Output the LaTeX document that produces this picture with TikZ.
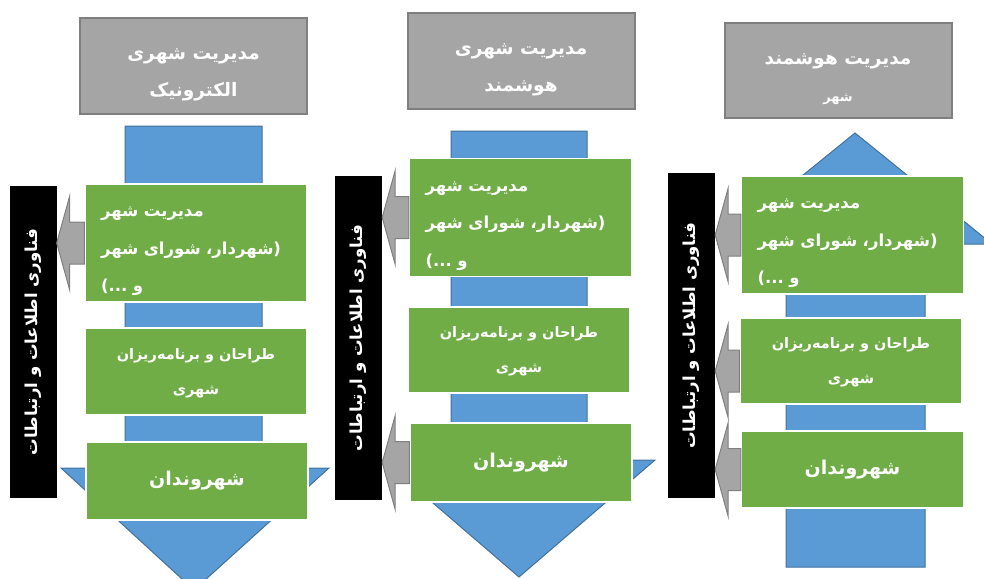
\documentclass[tikz,border=0pt]{standalone}
\usepackage{fontspec}
\usepackage{tikz}
\usetikzlibrary{calc,positioning}
\TeXXeTstate=1
\newfontfamily\fafont[Script=Arabic]{DejaVu Sans}
% une ligne abaissee de #1 et sans hauteur
\newcommand{\rbase}[2]{\raisebox{-#1}[0pt][0pt]{#2}}
\newcommand{\rh}[1]{\rbase{12pt}{#1}}% entete
\newcommand{\rv}[1]{\rbase{11pt}{#1}}% boite a trois lignes
\newcommand{\rp}[1]{\rbase{5pt}{#1}}% boite a deux lignes
\definecolor{gris}{HTML}{A5A5A5}
\definecolor{grisf}{HTML}{7F7F7F}
\definecolor{vert}{HTML}{70AD47}
\definecolor{bleu}{HTML}{5B9BD5}
\definecolor{bleuf}{HTML}{41719C}
\tikzset{
	fa_node/.style = {align=center, inner sep=0pt, text=white,
		font=\fafont\bfseries\fontsize{14.5}{35}\selectfont},
	fa_h/.style = {fa_node, rectangle, fill=gris, draw=grisf, line width=2pt,
		minimum width=227pt, minimum height=95pt,
		font=\fafont\bfseries\fontsize{18.5}{37}\selectfont},% entete gris
	fa_v/.style = {fa_node, rectangle, fill=vert, draw=white, line width=1.5pt,
		minimum width=222pt},% boite verte
	fa_v1/.style = {fa_v, minimum height=118pt, align=left, text width=190pt,
		font=\fafont\bfseries\fontsize{16.5}{37.5}\selectfont},% boite verte, trois lignes
	fa_c/.style = {fa_v, font=\fafont\bfseries\fontsize{19}{24}\selectfont},% citoyens
	fa_k/.style = {fa_node, rectangle, fill=black, rotate=90,
		minimum height=47pt, font=\fafont\bfseries\fontsize{16.5}{20}\selectfont},% barre noire
	arw_b/.style = {fill=bleu, draw=bleuf, line width=1pt},% fleche bleue
	arw_g/.style = {fill=gris, draw=grisf, line width=1pt}% fleche grise
}
% fleche grise de la boite #2 vers la barre #3 (barre tournee: south = bord droit)
\newcommand{\itflux}[3][0]{%
	\coordinate (pt) at ($(#3.south |- #2.west)+(0,#1)$);
	\draw[arw_g] (pt) -- ++(13,-47) -- ++(0,26) -- ($(#2.west |- pt)+(0,-21)$)
		-- ($(#2.west |- pt)+(0,21)$) -- ($(pt)+(13,21)$) -- ($(pt)+(13,47)$) -- cycle;
}

\begin{document}
\begin{tikzpicture}[x=1pt, y=-1pt]
\useasboundingbox (0,0) rectangle (984,578);

% fleches bleues
\draw[arw_b] (125,126) -- (262,126) -- (262,468) -- (329,468) -- (194,590)
	-- (61,468) -- (125,468) -- cycle;
\draw[arw_b] (451,131) -- (587,131) -- (587,460) -- (655,460) -- (519,577)
	-- (383,460) -- (451,460) -- cycle;
\draw[arw_b] (786,567) -- (925,567) -- (925,244) -- (992,244) -- (855,133)
	-- (718,244) -- (786,244) -- cycle;

% colonne 1
\node [fa_h] (h1) at (193.5,66) {\rh{\beginR مدیریت شهری\endR}\\ \rh{\beginR الکترونیک\endR}};
\node [fa_v1] (m1) at (196,243) {\rv{\beginR مدیریت شهر\endR}\\ \rv{\beginR (شهردار، شورای شهر\endR}\\ \rv{\beginR و ...)\endR}};
\node [fa_v, minimum height=87pt] (p1) at (196,371.5) {\rp{\beginR طراحان و برنامه‌ریزان\endR}\\ \rp{\beginR شهری\endR}};
\node [fa_c, minimum height=78pt] (c1) at (197,481) {\beginR شهروندان\endR};
\node [fa_k, minimum width=312pt] (k1) at (33,342) {\beginR فناوری اطلاعات و ارتباطات\endR};

% colonne 2
\node [fa_h] (h2) at (521,61) {\rh{\beginR مدیریت شهری\endR}\\ \rh{\beginR هوشمند\endR}};
\node [fa_v1] (m2) at (520.5,217.5) {\rv{\beginR مدیریت شهر\endR}\\ \rv{\beginR (شهردار، شورای شهر\endR}\\ \rv{\beginR و ...)\endR}};
\node [fa_v, minimum height=86pt] (p2) at (519,350) {\rp{\beginR طراحان و برنامه‌ریزان\endR}\\ \rp{\beginR شهری\endR}};
\node [fa_c, minimum height=79pt] (c2) at (521,462.5) {\beginR شهروندان\endR};
\node [fa_k, minimum width=324pt] (k2) at (358.5,338) {\beginR فناوری اطلاعات و ارتباطات\endR};

% colonne 3
\node [fa_h] (h3) at (838,70.5) {\rh{\beginR مدیریت هوشمند\endR}\\ \rh{\fontsize{13}{20}\selectfont\beginR شهر\endR}};
\node [fa_v1] (m3) at (852.5,235) {\rv{\beginR مدیریت شهر\endR}\\ \rv{\beginR (شهردار، شورای شهر\endR}\\ \rv{\beginR و ...)\endR}};
\node [fa_v, minimum height=86pt] (p3) at (851,361) {\rp{\beginR طراحان و برنامه‌ریزان\endR}\\ \rp{\beginR شهری\endR}};
\node [fa_c, minimum height=77pt] (c3) at (852.5,469.5) {\beginR شهروندان\endR};
\node [fa_k, minimum width=325pt] (k3) at (691.5,335.5) {\beginR فناوری اطلاعات و ارتباطات\endR};

% fleches grises
\itflux{m1}{k1}
\itflux{m2}{k2}
\itflux{c2}{k2}
\itflux{m3}{k3}
\itflux[10]{p3}{k3}
\itflux{c3}{k3}
\end{tikzpicture}
\end{document}
